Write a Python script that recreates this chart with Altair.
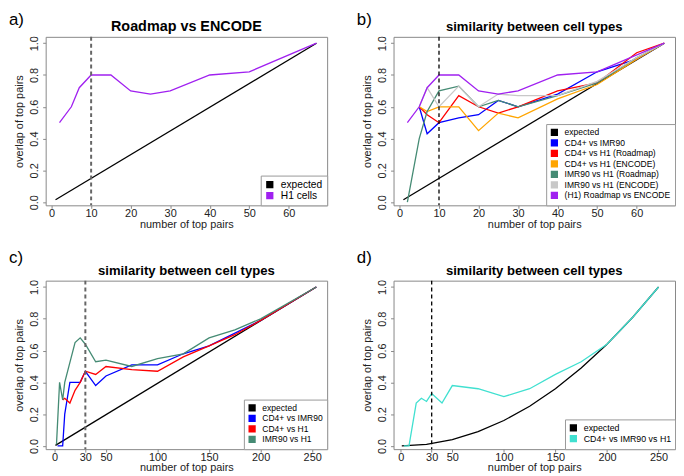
import altair as alt
import pandas as pd

FONT = "Liberation Sans"

# ---------------- panel a ----------------
A_EXP_X = [1, 67]
A_EXP_Y = [0.015, 1.0]
A_H1_X = [2, 5, 7, 10, 15, 20, 25, 30, 40, 50, 67]
A_H1_Y = [0.50, 0.60, 0.72, 0.80, 0.80, 0.70, 0.68, 0.70, 0.80, 0.82, 1.00]

# ---------------- panel b ----------------
B_EXP_X = [1, 67]
B_EXP_Y = [0.015, 1.0]
B_BLUE_X = [5, 7, 10, 15, 20, 25, 30, 40, 50, 60, 67]
B_BLUE_Y = [0.60, 0.43, 0.50, 0.53, 0.55, 0.64, 0.60, 0.68, 0.82, 0.90, 1.00]
B_RED_X = [5, 7, 10, 15, 20, 25, 30, 40, 50, 60, 67]
B_RED_Y = [0.60, 0.55, 0.50, 0.67, 0.60, 0.56, 0.60, 0.70, 0.75, 0.94, 1.00]
B_ORANGE_X = [5, 7, 10, 15, 20, 25, 30, 40, 50, 60, 67]
B_ORANGE_Y = [0.60, 0.57, 0.60, 0.60, 0.45, 0.56, 0.53, 0.65, 0.74, 0.90, 1.00]
B_GREEN_X = [2, 5, 7, 10, 15, 20, 25, 30, 40, 50, 60, 67]
B_GREEN_Y = [0.00, 0.40, 0.57, 0.70, 0.73, 0.60, 0.64, 0.60, 0.67, 0.75, 0.91, 1.00]
B_GREY_X = [5, 7, 10, 15, 20, 25, 30, 40, 50, 60, 67]
B_GREY_Y = [0.60, 0.72, 0.60, 0.73, 0.60, 0.68, 0.67, 0.67, 0.76, 0.91, 1.00]
B_PURPLE_X = [2, 5, 7, 10, 15, 20, 25, 30, 40, 50, 67]
B_PURPLE_Y = [0.50, 0.60, 0.72, 0.80, 0.80, 0.70, 0.68, 0.70, 0.80, 0.82, 1.00]

# ---------------- panel c ----------------
C_EXP_X = [1, 254]
C_EXP_Y = [0.004, 1.0]
C_BLUE_X = [3, 8, 10, 15, 25, 30, 40, 50, 75, 100, 125, 150, 200, 254]
C_BLUE_Y = [0.00, 0.00, 0.20, 0.40, 0.40, 0.47, 0.38, 0.44, 0.51, 0.51, 0.58, 0.63, 0.79, 1.00]
C_RED_X = [8, 10, 15, 20, 25, 30, 40, 50, 75, 100, 125, 150, 175, 200, 254]
C_RED_Y = [0.29, 0.30, 0.27, 0.35, 0.40, 0.47, 0.45, 0.50, 0.48, 0.47, 0.56, 0.63, 0.70, 0.79, 1.00]
C_GREEN_X = [2, 5, 8, 10, 20, 25, 30, 40, 50, 75, 100, 125, 150, 175, 200, 254]
C_GREEN_Y = [0.01, 0.40, 0.29, 0.40, 0.65, 0.68, 0.64, 0.53, 0.54, 0.50, 0.55, 0.58, 0.68, 0.73, 0.80, 1.00]

# ---------------- panel d ----------------
D_EXP_X = [1, 25, 50, 75, 100, 125, 150, 175, 200, 225, 250]
D_EXP_Y = [0.0, 0.01, 0.04, 0.09, 0.16, 0.25, 0.36, 0.49, 0.64, 0.81, 1.00]
D_CYAN_X = [3, 8, 15, 20, 25, 30, 40, 50, 75, 100, 125, 150, 175, 200, 225, 250]
D_CYAN_Y = [0.00, 0.00, 0.27, 0.30, 0.28, 0.33, 0.27, 0.38, 0.36, 0.31, 0.36, 0.45, 0.53, 0.64, 0.81, 1.00]

BLACK = "#000000"
BLUE = "#0000FF"
RED = "#FF0000"
ORANGE = "#FFA500"
GREEN = "#458B74"
GREY = "#C8C8C8"
PURPLE = "#A020F0"
CYAN = "#40E0D0"

Y_TICKS = [0.0, 0.2, 0.4, 0.6, 0.8, 1.0]

# a filled-looking square legend key drawn with stroked lines only
SQUARE_KEY = ("M-1,-1H1V1H-1Z"
              "M-1,-0.7H1M-1,-0.4H1M-1,-0.1H1M-1,0.2H1M-1,0.5H1M-1,0.8H1")


def make_df(series):
    rows = []
    for name, xs, ys in series:
        for x, y in zip(xs, ys):
            rows.append({"series": name, "x": x, "y": y})
    return pd.DataFrame(rows)


def panel(letter, title, series, colors, cutoff, cut_color, cut_width,
          xdomain, xticks, letter_y, title_size, leg_font, leg_row_pad,
          width=284, height=170):
    df = make_df(series)
    order = [s[0] for s in series]
    xenc = alt.X("x:Q", scale=alt.Scale(domain=xdomain, nice=False, zero=False),
                 axis=alt.Axis(values=xticks, format="d", title="number of top pairs",
                               labelOverlap=False, labelFlush=False,
                               labelPadding=-1, titlePadding=0))
    yenc = alt.Y("y:Q", scale=alt.Scale(domain=[-0.02, 1.04], nice=False, zero=False),
                 axis=alt.Axis(values=Y_TICKS, format=".1f",
                               title="overlap of top pairs", labelOverlap=False,
                               labelSeparation=0, labelFlush=False,
                               labelAngle=270, labelAlign="center",
                               labelBaseline="bottom", labelPadding=3))
    legend = alt.Legend(
        title=None, orient="bottom-right", offset=0, padding=4,
        strokeColor="#999999", fillColor="white", symbolType=SQUARE_KEY,
        symbolSize=36, symbolStrokeWidth=1.3, symbolOpacity=1,
        labelFontSize=leg_font, labelFont=FONT, labelColor="#000000",
        rowPadding=leg_row_pad, labelOffset=6, cornerRadius=0,
    )
    lines = alt.Chart(df).mark_line().encode(
        x=xenc, y=yenc,
        stroke=alt.Stroke("series:N", scale=alt.Scale(domain=order, range=colors),
                          legend=legend),
        order=alt.Order("x:Q"),
    )
    rule = alt.Chart(pd.DataFrame({"x": [cutoff]})).mark_rule(
        strokeDash=[4, 3], color=cut_color, strokeWidth=cut_width
    ).encode(x="x:Q")
    lab = alt.Chart(pd.DataFrame({"t": [letter]})).mark_text(
        align="left", baseline="top", fontSize=17, font=FONT, color="black"
    ).encode(x=alt.value(-37), y=alt.value(letter_y), text="t:N")
    ttl = alt.Chart(pd.DataFrame({"t": [title]})).mark_text(
        align="center", baseline="alphabetic", fontSize=title_size, fontWeight="bold",
        font=FONT, color="black"
    ).encode(x=alt.value(width / 2), y=alt.value(-6), text="t:N")
    return alt.layer(lines, rule, lab, ttl).properties(width=width, height=height)


pa = panel("a)", "Roadmap vs ENCODE",
           [("expected", A_EXP_X, A_EXP_Y), ("H1 cells", A_H1_X, A_H1_Y)],
           [BLACK, PURPLE], 10, "#666666", 2, [-1.5, 69.7], [0, 10, 20, 30, 40, 50, 60],
           -25, 14.5, 10.3, -2.4)

pb = panel("b)", "similarity between cell types",
           [("expected", B_EXP_X, B_EXP_Y),
            ("CD4+ vs IMR90", B_BLUE_X, B_BLUE_Y),
            ("CD4+ vs H1 (Roadmap)", B_RED_X, B_RED_Y),
            ("CD4+ vs H1 (ENCODE)", B_ORANGE_X, B_ORANGE_Y),
            ("IMR90 vs H1 (Roadmap)", B_GREEN_X, B_GREEN_Y),
            ("IMR90 vs H1 (ENCODE)", B_GREY_X, B_GREY_Y),
            ("(H1) Roadmap vs ENCODE", B_PURPLE_X, B_PURPLE_Y)],
           [BLACK, BLUE, RED, ORANGE, GREEN, GREY, PURPLE], 10, "#000000", 1.3,
           [-1.5, 69.7], [0, 10, 20, 30, 40, 50, 60], -25, 13.2, 8.6, -1.4)

pc = panel("c)", "similarity between cell types",
           [("expected", C_EXP_X, C_EXP_Y),
            ("CD4+ vs IMR90", C_BLUE_X, C_BLUE_Y),
            ("CD4+ vs H1", C_RED_X, C_RED_Y),
            ("IMR90 vs H1", C_GREEN_X, C_GREEN_Y)],
           [BLACK, BLUE, RED, GREEN], 30, "#666666", 2,
           [-8.5, 264.5], [0, 30, 50, 100, 150, 200, 250], -31, 13.2, 8.6, -1.4)

pd_ = panel("d)", "similarity between cell types",
            [("expected", D_EXP_X, D_EXP_Y),
             ("CD4+ vs IMR90 vs H1", D_CYAN_X, D_CYAN_Y)],
            [BLACK, CYAN], 30, "#000000", 1.3,
            [-7, 266], [0, 30, 50, 100, 150, 200, 250], -31, 13.2, 8.9, -2.6)

chart = alt.concat(pa, pb, pc, pd_, columns=2,
                   spacing={"row": 76, "column": 67}, bounds="flush").resolve_scale(
    x="independent", y="independent", stroke="independent"
).resolve_legend(stroke="independent").properties(
    padding=0
).configure_view(
    stroke="#888888", strokeWidth=1
).configure_line(
    strokeWidth=1.3
).configure_axis(
    domain=False, grid=False, tickColor="#888888", tickSize=3,
    labelFont=FONT, labelFontSize=11, labelColor="#222222",
    titleFont=FONT, titleFontSize=11, titleFontWeight="normal", titleColor="#222222",
)

chart.save("out.html", embed_options={"renderer": "svg", "actions": False})
